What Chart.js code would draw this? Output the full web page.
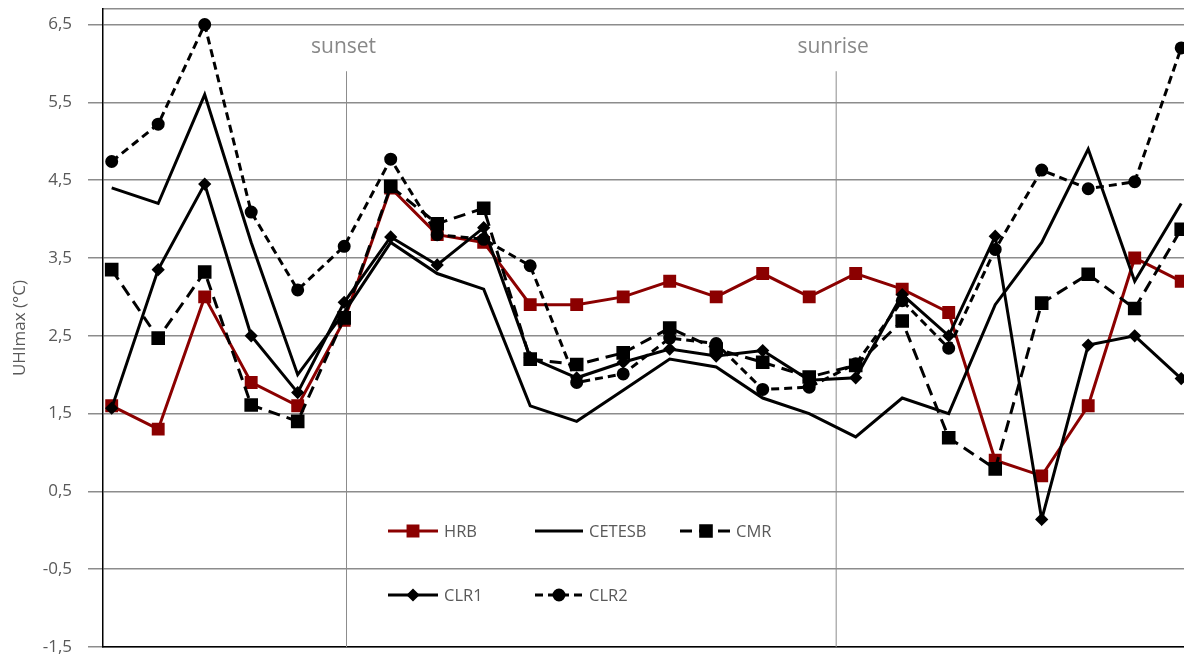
<!DOCTYPE html>
<html>
<head>
<meta charset="utf-8">
<script src="https://cdn.jsdelivr.net/npm/chart.js@4/dist/chart.umd.min.js"></script>
<style>
  html, body { margin: 0; padding: 0; background: #fff; }
</style>
</head>
<body>
<canvas id="chart" width="1184" height="657"></canvas>
<script>
// hourly steps along the x axis (no tick labels shown)
const steps = [0,1,2,3,4,5,6,7,8,9,10,11,12,13,14,15,16,17,18,19,20,21,22,23];

const hrb    = [1.6,1.3,3.0,1.9,1.6,2.7,4.4,3.8,3.7,2.9,2.9,3.0,3.2,3.0,3.3,3.0,3.3,3.1,2.8,0.9,0.7,1.6,3.5,3.2];
const cetesb = [4.4,4.2,5.6,3.7,2.0,2.8,3.7,3.3,3.1,1.6,1.4,1.8,2.2,2.1,1.7,1.5,1.2,1.7,1.5,2.9,3.7,4.9,3.2,4.2];
const cmr    = [3.35,2.47,3.32,1.61,1.4,2.73,4.42,3.94,4.14,2.2,2.13,2.28,2.6,2.33,2.16,1.97,2.12,2.69,1.19,0.79,2.92,3.29,2.85,3.87];
const clr1   = [1.57,3.35,4.45,2.5,1.77,2.93,3.77,3.41,3.89,2.22,1.96,2.16,2.33,2.24,2.31,1.93,1.96,3.03,2.5,3.78,0.14,2.38,2.5,1.95];
const clr2   = [4.74,5.22,6.5,4.09,3.09,3.65,4.77,3.8,3.74,3.4,1.9,2.01,2.47,2.4,1.81,1.84,2.14,2.95,2.34,3.61,4.63,4.39,4.48,6.2];

const yTicks = [-1.5,-0.5,0.5,1.5,2.5,3.5,4.5,5.5,6.5];

// sunset / sunrise markers (x position on the step axis)
const eventNames = ['sunset', 'sunrise'];
const eventSteps = [5.05, 15.58];
const eventTop = 5.9;

const red = '#8b0000';
const grid = '#8c8c8c';
const txt = '#595959';
const font = '"Open Sans", "Liberation Sans", sans-serif';

const pts = arr => arr.map((v, i) => ({ x: steps[i], y: v }));

const series = [
  { label: 'HRB', data: pts(hrb), borderColor: red, backgroundColor: red, borderWidth: 3,
    pointStyle: 'rect', pointRadius: 7, order: 5 },
  { label: 'CETESB', data: pts(cetesb), borderColor: '#000', backgroundColor: '#000', borderWidth: 3,
    pointRadius: 0, order: 4 },
  { label: 'CMR', data: pts(cmr), borderColor: '#000', backgroundColor: '#000', borderWidth: 3,
    borderDash: [12, 7], pointStyle: 'rect', pointRadius: 7.5, order: 3 },
  { label: 'CLR1', data: pts(clr1), borderColor: '#000', backgroundColor: '#000', borderWidth: 3,
    pointStyle: 'rectRot', pointRadius: 4.5, order: 2 },
  { label: 'CLR2', data: pts(clr2), borderColor: '#000', backgroundColor: '#000', borderWidth: 3,
    borderDash: [8, 5], pointStyle: 'circle', pointRadius: 5, order: 1 }
];

const eventLines = eventSteps.map(s => ({
  label: '', data: [{ x: s, y: -1.5 }, { x: s, y: eventTop }],
  borderColor: grid, borderWidth: 1, pointRadius: 0, order: 10
}));

// legend drawn by hand to match the two-row layout
const legendSpots = [
  { i: 0, x: 388, y: 531, w: 50, mx: 413 },
  { i: 1, x: 535, y: 531, w: 48, mx: null },
  { i: 2, x: 680, y: 531, w: 50, mx: 706 },
  { i: 3, x: 388, y: 595, w: 50, mx: 413 },
  { i: 4, x: 535, y: 595, w: 48, mx: 559 }
];

const extras = {
  id: 'extras',
  afterDatasetsDraw(chart) {
    const ctx = chart.ctx;
    const xs = chart.scales.x, ys = chart.scales.y;
    ctx.save();
    // sunset / sunrise captions
    ctx.font = '21px ' + font;
    ctx.fillStyle = '#888';
    ctx.textAlign = 'center';
    ctx.textBaseline = 'middle';
    eventNames.forEach((n, k) => {
      ctx.fillText(n, xs.getPixelForValue(eventSteps[k]) - 3, ys.getPixelForValue(6.21));
    });
    // legend
    ctx.font = '16.5px ' + font;
    ctx.textAlign = 'left';
    legendSpots.forEach(sp => {
      const ds = series[sp.i];
      ctx.strokeStyle = ds.borderColor;
      ctx.fillStyle = ds.backgroundColor;
      ctx.lineWidth = ds.borderWidth;
      ctx.setLineDash(ds.borderDash || []);
      ctx.beginPath();
      ctx.moveTo(sp.x, sp.y);
      ctx.lineTo(sp.x + sp.w, sp.y);
      ctx.stroke();
      ctx.setLineDash([]);
      if (sp.mx !== null) {
        Chart.helpers.drawPoint(ctx, { pointStyle: ds.pointStyle, radius: ds.pointRadius, rotation: 0, borderWidth: 1 }, sp.mx, sp.y);
      }
      ctx.fillStyle = txt;
      ctx.fillText(ds.label, sp.x + sp.w + 6, sp.y + 1);
    });
    ctx.restore();
  }
};

new Chart(document.getElementById('chart'), {
  type: 'line',
  data: { datasets: series.concat(eventLines) },
  options: {
    responsive: false,
    devicePixelRatio: 1,
    animation: false,
    layout: { autoPadding: false, padding: { top: 9, left: 0, right: 0, bottom: 0 } },
    elements: { line: { tension: 0 } },
    plugins: { legend: { display: false }, tooltip: { enabled: false } },
    scales: {
      x: {
        type: 'linear', position: 'bottom', min: -0.187, max: 23.06,
        grid: { display: false, drawTicks: false },
        border: { color: '#000', width: 1.5 },
        ticks: { display: false },
        afterFit(s) { s.height = 10; }
      },
      xTop: {
        type: 'linear', axis: 'x', position: 'top', min: -0.187, max: 23.06,
        grid: { display: false, drawTicks: false },
        border: { color: grid, width: 1.5 },
        ticks: { display: false },
        afterFit(s) { s.height = 0; }
      },
      y: {
        min: -1.5, max: 6.7,
        afterBuildTicks(s) { s.ticks = yTicks.map(v => ({ value: v })); },
        ticks: {
          callback: v => v.toFixed(1).replace('.', ','),
          color: txt, font: { family: font, size: 17 }, padding: 16
        },
        grid: { color: grid, lineWidth: 1.5, tickLength: 15, tickColor: grid },
        border: { color: '#000', width: 1.5 },
        title: { display: true, text: 'UHImax (°C)', color: txt,
                 font: { family: font, size: 17 }, padding: { top: 10, bottom: 0 } },
        afterFit(s) { s.width = 103; s.paddingTop = 0; s.paddingBottom = 0; }
      }
    }
  },
  plugins: [extras]
});
</script>
</body>
</html>
